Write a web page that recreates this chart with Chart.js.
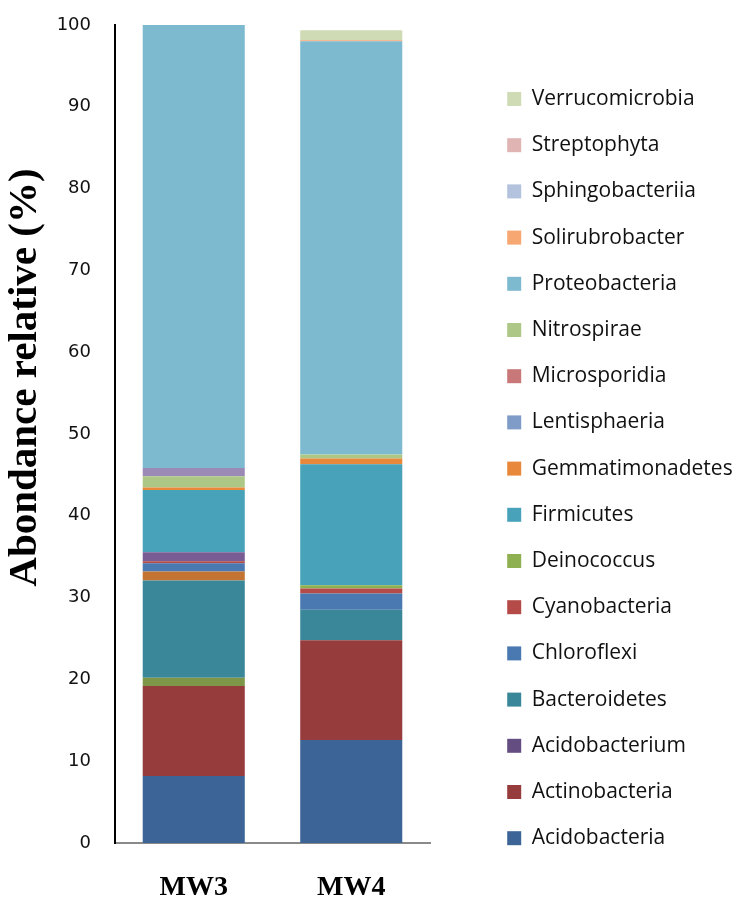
<!DOCTYPE html>
<html>
<head>
<meta charset="utf-8">
<script src="https://cdn.jsdelivr.net/npm/chart.js@4.4.1/dist/chart.umd.min.js"></script>
<style>
  html, body { margin: 0; padding: 0; background: #ffffff; }
  #wrap { width: 737px; height: 898px; }
</style>
</head>
<body>
<div id="wrap"><canvas id="chart" width="737" height="898"></canvas></div>
<script>
// Sampling sites
const sites = ['MW3', 'MW4'];

// Relative abundance (%) per taxon, stacked bottom to top; [MW3, MW4]
const acidobacteria    = [8.2, 12.6];
const actinobacteria   = [11.0, 12.2];
const unlabelledOlive  = [1.0, 0];
const acidobacterium   = [0, 0];
const bacteroidetes    = [11.9, 3.7];
const unlabelledOrange = [1.1, 0];
const chloroflexi      = [1.0, 2.0];
const cyanobacteria    = [0.25, 0.6];
const deinococcus      = [0, 0.4];
const unlabelledPurple = [1.1, 0];
const firmicutes       = [7.6, 14.8];
const gemmatimonadetes = [0.3, 0.7];
const lentisphaeria    = [0, 0];
const microsporidia    = [0, 0];
const nitrospirae      = [1.4, 0.5];
const unlabelledLilac  = [1.0, 0];
const proteobacteria   = [54.15, 50.5];
const solirubrobacter  = [0, 0.15];
const sphingobacteriia = [0, 0];
const streptophyta     = [0, 0];
const verrucomicrobia  = [0, 1.2];

// Y axis range and step
const yMin = 0, yMax = 100, yStep = 10;

const series = [
  ['Acidobacteria',    acidobacteria,    '#3C6496'],
  ['Actinobacteria',   actinobacteria,   '#963C3C'],
  ['',                 unlabelledOlive,  '#7E9647'],
  ['Acidobacterium',   acidobacterium,   '#644D80'],
  ['Bacteroidetes',    bacteroidetes,    '#3A8799'],
  ['',                 unlabelledOrange, '#C37433'],
  ['Chloroflexi',      chloroflexi,      '#4A78B0'],
  ['Cyanobacteria',    cyanobacteria,    '#B54B48'],
  ['Deinococcus',      deinococcus,      '#8FB050'],
  ['',                 unlabelledPurple, '#7A5C94'],
  ['Firmicutes',       firmicutes,       '#48A2BA'],
  ['Gemmatimonadetes', gemmatimonadetes, '#E8883A'],
  ['Lentisphaeria',    lentisphaeria,    '#7F9CC8'],
  ['Microsporidia',    microsporidia,    '#C87878'],
  ['Nitrospirae',      nitrospirae,      '#ADC886'],
  ['',                 unlabelledLilac,  '#9B8AB5'],
  ['Proteobacteria',   proteobacteria,   '#7EBACF'],
  ['Solirubrobacter',  solirubrobacter,  '#F6A772'],
  ['Sphingobacteriia', sphingobacteriia, '#B3C2DD'],
  ['Streptophyta',     streptophyta,     '#DFB4B3'],
  ['Verrucomicrobia',  verrucomicrobia,  '#CFDBB5']
];

const datasets = series.map(([label, data, color]) => ({
  label,
  data,
  backgroundColor: color,
  borderWidth: 0,
  barPercentage: 0.648,
  categoryPercentage: 1.0
}));

// Rotated y-axis caption
const yCaption = {
  id: 'yCaption',
  afterDraw(chart) {
    const {ctx, chartArea} = chart;
    const cy = chartArea.top + (chartArea.bottom - chartArea.top) * 0.431;
    ctx.save();
    ctx.translate(25, cy);
    ctx.rotate(-Math.PI / 2);
    ctx.font = 'bold 41px "Liberation Serif", "Times New Roman", serif';
    ctx.fillStyle = '#000000';
    ctx.textAlign = 'center';
    ctx.textBaseline = 'middle';
    ctx.fillText('Abondance relative (%)', 0, 0);
    ctx.restore();
  }
};

new Chart(document.getElementById('chart'), {
  type: 'bar',
  data: { labels: sites, datasets },
  plugins: [yCaption],
  options: {
    responsive: false,
    animation: false,
    layout: { padding: { top: 25, left: 0, right: 0, bottom: 0 } },
    plugins: {
      tooltip: { enabled: false },
      legend: {
        position: 'right',
        align: 'center',
        reverse: true,
        maxWidth: 255,
        title: { display: true, text: '', padding: 0, font: { size: 10, lineHeight: 1.42 } },
        labels: {
          filter: item => item.text !== '',
          boxWidth: 14,
          boxHeight: 14,
          padding: 25.2,
          color: '#111111',
          font: { family: '"Open Sans", "Noto Sans", sans-serif', size: 21 }
        }
      }
    },
    scales: {
      x: {
        stacked: true,
        grid: { display: false, drawTicks: false },
        border: { display: true, color: '#8a8a8a', width: 2 },
        ticks: {
          color: '#000000',
          padding: 28,
          font: { family: '"Liberation Serif", "Times New Roman", serif', size: 28, weight: 'bold' }
        },
        afterFit: s => { s.height = 55; }
      },
      y: {
        stacked: true,
        min: yMin,
        max: yMax,
        grid: { display: false, drawTicks: false },
        border: { display: true, color: '#000000', width: 2 },
        ticks: {
          stepSize: yStep,
          color: '#111111',
          padding: 24,
          font: { family: '"DejaVu Sans", Verdana, sans-serif', size: 18 }
        },
        afterFit: s => { s.width = 115; s.paddingTop = 0; s.paddingBottom = 0; }
      },
      gap: {
        type: 'linear',
        position: 'right',
        display: true,
        grid: { display: false, drawTicks: false },
        border: { display: false },
        ticks: { display: false },
        afterFit: s => { s.width = 52; s.paddingTop = 0; s.paddingBottom = 0; }
      }
    }
  }
});
</script>
</body>
</html>
